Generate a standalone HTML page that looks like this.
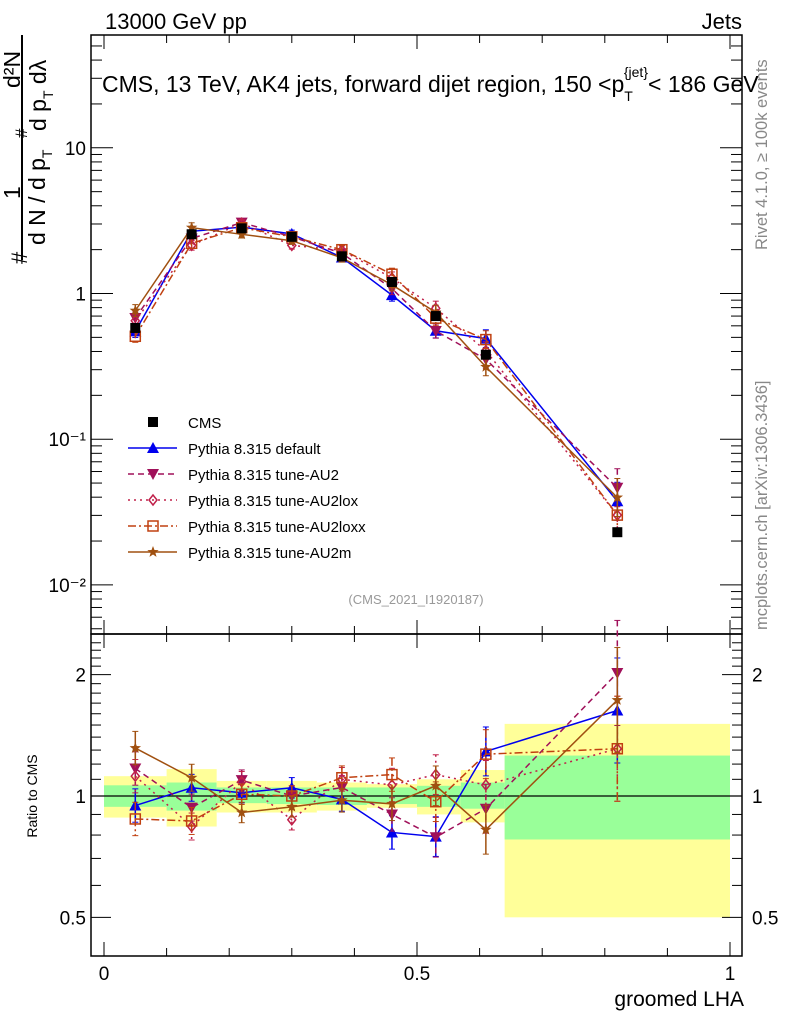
<!DOCTYPE html>
<html><head><meta charset="utf-8"><style>
body{margin:0;background:#fff}
svg text{font-family:"Liberation Sans",sans-serif}
</style></head><body>
<svg id="chart" width="786" height="1024" xmlns="http://www.w3.org/2000/svg">
<g id="bands"></g>
<g id="axes"></g>
<g id="series"></g>
<text x="105" y="29" font-size="22">13000 GeV pp</text>
<text x="742" y="29" font-size="22" text-anchor="end">Jets</text>
<text x="102" y="92" font-size="23">CMS, 13 TeV, AK4 jets, forward dijet region, 150 &lt;p<tspan dy="9" font-size="14">T</tspan><tspan dy="-24" dx="-9" font-size="14">{jet}</tspan><tspan dy="15">&lt; 186 GeV</tspan></text>
<text x="416" y="604" font-size="13" fill="#999" text-anchor="middle">(CMS_2021_I1920187)</text>
<text x="744" y="1006" font-size="21" text-anchor="end">groomed LHA</text>
<text transform="translate(37,796) rotate(-90)" font-size="14" text-anchor="middle">Ratio to CMS</text>
<text transform="translate(767,250) rotate(-90)" font-size="16.5" fill="#888">Rivet 4.1.0, ≥ 100k events</text>
<text transform="translate(767,630) rotate(-90)" font-size="16.5" fill="#888">mcplots.cern.ch [arXiv:1306.3436]</text>
<g font-size="23">
<text transform="translate(27,264) rotate(-90)" font-size="22">#</text>
<text transform="translate(20,199) rotate(-90)">1</text>
<line x1="22" y1="260" x2="22" y2="35" stroke="#000" stroke-width="2"/>
<text transform="translate(45,245) rotate(-90)">d N / d p<tspan dy="7" font-size="14">T</tspan></text>
<text transform="translate(27,138) rotate(-90)" font-size="17">#</text>
<text transform="translate(20,88) rotate(-90)">d²N</text>
<text transform="translate(46,131) rotate(-90)">d p<tspan dy="7" font-size="14">T</tspan><tspan dy="-7"> dλ</tspan></text>
</g>
<g id="legend"></g>
</svg>
<script>
const edges=[0,0.1,0.18,0.26,0.34,0.42,0.5,0.57,0.64,1.0];
const centers=[0.05,0.14,0.22,0.30,0.38,0.46,0.53,0.61,0.82];
const cms=[0.58,2.55,2.8,2.45,1.8,1.2,0.7,0.38,0.023];
const yelHi=[1.12,1.166,1.09,1.09,1.08,1.07,1.1,1.16,1.51];
const yelLo=[0.884,0.84,0.91,0.91,0.92,0.935,0.9,0.86,0.5];
const grnHi=[1.063,1.08,1.05,1.05,1.05,1.05,1.06,1.08,1.26];
const grnLo=[0.94,0.92,0.96,0.955,0.95,0.955,0.94,0.93,0.78];
const rDefault=[0.947,1.048,1.019,1.048,0.981,0.812,0.793,1.29,1.63];
const rAU2=[1.17,0.936,1.095,1.0,1.05,0.90,0.79,0.93,2.02];
const rAU2lox=[1.12,0.84,1.085,0.873,1.10,1.065,1.13,1.065,1.31];
const rAU2loxx=[0.877,0.867,1.01,1.0,1.11,1.13,0.968,1.27,1.31];
const rAU2m=[1.315,1.11,0.91,0.94,0.976,0.956,1.06,0.825,1.73];
const relErr=[0.1,0.08,0.06,0.06,0.07,0.1,0.12,0.15,0.35];
const xTicks=[0,0.5,1];
const xTickLabels=["0","0.5","1"];
const yTicks=[0.01,0.1,1,10];
const yTickLabels=["10⁻²","10⁻¹","1","10"];
const rTicks=[0.5,1,2];
const rTickLabels=["0.5","1","2"];

const NS="http://www.w3.org/2000/svg";
const X0=104,X1=730,L=91,R=742,T=35,MB=634,RB=956;
const xs=v=>X0+(X1-X0)*v;
const ys=v=>293.5-145.7*Math.log10(v);
const yr=v=>796-403*Math.log10(v);
function el(tag,attrs,parent){const e=document.createElementNS(NS,tag);for(const k in attrs)e.setAttribute(k,attrs[k]);parent.appendChild(e);return e;}
const bands=document.getElementById('bands'),axes=document.getElementById('axes'),ser=document.getElementById('series'),leg=document.getElementById('legend');

for(let i=0;i<centers.length;i++){
  const a=xs(edges[i]),b=xs(edges[i+1]);
  const y=el('rect',{x:a,y:yr(yelHi[i]),width:b-a,height:yr(yelLo[i])-yr(yelHi[i]),fill:'#ffff99'},bands);
  
  
  const g=el('rect',{x:a,y:yr(grnHi[i]),width:b-a,height:yr(grnLo[i])-yr(grnHi[i]),fill:'#99ff99'},bands);
  
  
}
el('rect',{x:L,y:T,width:R-L,height:MB-T,fill:'none',stroke:'#000','stroke-width':1.5},axes);
el('rect',{x:L,y:MB,width:R-L,height:RB-MB,fill:'none',stroke:'#000','stroke-width':1.5},axes);
el('line',{x1:L,x2:R,y1:yr(1),y2:yr(1),stroke:'#000','stroke-width':1.2},axes);
for(let v=0;v<=1.0001;v+=0.1){
  const big=Math.abs(v*2-Math.round(v*2))<1e-6, len=big?14:8;
  for(const [yb,dir] of [[MB,-1],[T,1],[RB,-1],[MB,1]]) el('line',{x1:xs(v),x2:xs(v),y1:yb,y2:yb+dir*len,stroke:'#000'},axes);
}
xTicks.forEach((v,i)=>{const t=el('text',{x:xs(v),y:980,'font-size':19,'text-anchor':'middle'},axes);t.textContent=xTickLabels[i];

});
for(let d=-3;d<=1;d++)for(let m=1;m<10;m++){const v=m*Math.pow(10,d);const y=ys(v);if(y<T||y>MB)continue;const len=m==1?22:11;
 el('line',{x1:L,x2:L+len,y1:y,y2:y,stroke:'#000'},axes);el('line',{x1:R,x2:R-len,y1:y,y2:y,stroke:'#000'},axes);}
yTicks.forEach((v,i)=>{const t=el('text',{x:86,y:ys(v)+7,'font-size':19,'text-anchor':'end'},axes);t.textContent=yTickLabels[i];

});
for(let v=0.4;v<=2.45;v+=0.1){const y=yr(v);if(y<MB||y>RB)continue;
 const big=[0.5,1,2].some(q=>Math.abs(q-v)<1e-6);const len=big?20:10;
 el('line',{x1:L,x2:L+len,y1:y,y2:y,stroke:'#000'},axes);el('line',{x1:R,x2:R-len,y1:y,y2:y,stroke:'#000'},axes);}
rTicks.forEach((v,i)=>{for(const [x,a] of [[86,'end'],[752,'start']]){const t=el('text',{x:x,y:yr(v)+7,'font-size':19,'text-anchor':a},axes);t.textContent=rTickLabels[i];

}});

function marker(g,type,x,y,c){
  if(type=='sq')el('rect',{x:x-5,y:y-5,width:10,height:10,fill:'#000'},g);
  if(type=='tri')el('polygon',{points:`${x},${y-6} ${x-6},${y+5} ${x+6},${y+5}`,fill:c},g);
  if(type=='itri')el('polygon',{points:`${x},${y+6} ${x-6},${y-5} ${x+6},${y-5}`,fill:c},g);
  if(type=='dia')el('polygon',{points:`${x},${y-5} ${x+4},${y} ${x},${y+5} ${x-4},${y}`,fill:'none',stroke:c,'stroke-width':1.5},g);
  if(type=='osq')el('rect',{x:x-5,y:y-5,width:10,height:10,fill:'none',stroke:c,'stroke-width':1.5},g);
  if(type=='star'){let p=[];for(let k=0;k<10;k++){const r=k%2?2.5:6,a=-Math.PI/2+k*Math.PI/5;p.push((x+r*Math.cos(a))+','+(y+r*Math.sin(a)));}el('polygon',{points:p.join(' '),fill:c},g);}
}
const series=[
 {name:'default',ratio:rDefault,c:'#0000ee',m:'tri',dash:'',label:'Pythia 8.315 default'},
 {name:'tune-au2',ratio:rAU2,c:'#a0105a',m:'itri',dash:'6,4',label:'Pythia 8.315 tune-AU2'},
 {name:'tune-au2lox',ratio:rAU2lox,c:'#c0204a',m:'dia',dash:'2,4',label:'Pythia 8.315 tune-AU2lox'},
 {name:'tune-au2loxx',ratio:rAU2loxx,c:'#c04010',m:'osq',dash:'8,3,2,3',label:'Pythia 8.315 tune-AU2loxx'},
 {name:'tune-au2m',ratio:rAU2m,c:'#a05010',m:'star',dash:'',label:'Pythia 8.315 tune-AU2m'}];
series.forEach(s=>{
  const g=el('g',{},ser);
  
  
  const vals=cms.map((v,i)=>v*s.ratio[i]);
  el('polyline',{points:centers.map((c,i)=>xs(c)+','+ys(vals[i])).join(' '),fill:'none',stroke:s.c,'stroke-width':1.5,'stroke-dasharray':s.dash},g);
  el('polyline',{points:centers.map((c,i)=>xs(c)+','+yr(s.ratio[i])).join(' '),fill:'none',stroke:s.c,'stroke-width':1.5,'stroke-dasharray':s.dash},g);
  centers.forEach((c,i)=>{
    const x=xs(c);
    for(const [v,f] of [[vals[i],ys],[s.ratio[i],yr]]){
      const e=relErr[i];
      el('line',{x1:x,x2:x,y1:f(v*(1+e)),y2:f(v/(1+e)),stroke:s.c,'stroke-width':1.5,'stroke-dasharray':s.dash},g);
      el('line',{x1:x-3,x2:x+3,y1:f(v*(1+e)),y2:f(v*(1+e)),stroke:s.c},g);
      el('line',{x1:x-3,x2:x+3,y1:f(v/(1+e)),y2:f(v/(1+e)),stroke:s.c},g);
      marker(g,s.m,x,f(v),s.c);
    }
  });
});
const cg=el('g',{},ser);


centers.forEach((c,i)=>marker(cg,'sq',xs(c),ys(cms[i]),'#000'));
const rows=[{label:'CMS',m:'sq',c:'#000',line:false}].concat(series.map(s=>({label:s.label,m:s.m,c:s.c,dash:s.dash,line:true})));
rows.forEach((r,i)=>{
  const y=422+26*i;
  const g=el('g',{},leg);
  
  
  if(r.line)el('line',{x1:128,x2:177,y1:y,y2:y,stroke:r.c,'stroke-width':1.5,'stroke-dasharray':r.dash},g);
  marker(g,r.m,153,y,r.c);
  const t=el('text',{x:188,y:y+6,'font-size':15},g);t.textContent=r.label;
});
</script>
</body></html>
